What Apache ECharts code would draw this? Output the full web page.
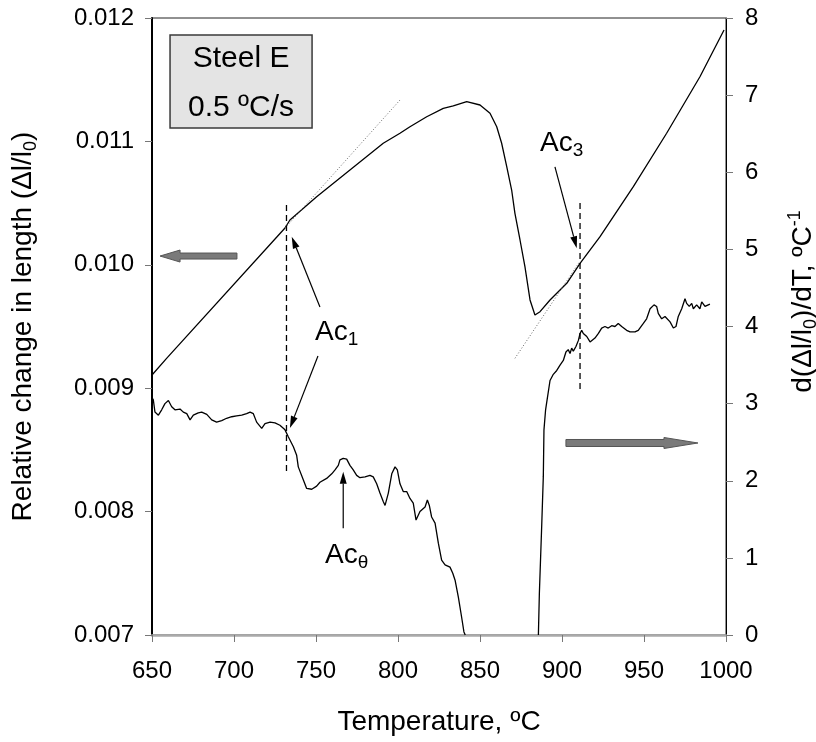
<!DOCTYPE html>
<html>
<head>
<meta charset="utf-8">
<script src="https://cdn.jsdelivr.net/npm/echarts@6/dist/echarts.min.js"></script>
<style>
  html, body { margin: 0; padding: 0; background: #fff; }
  #chart { width: 816px; height: 742px; }
</style>
</head>
<body>
<div id="chart"></div>
<script>
const FONT = '"Liberation Sans", Arial, sans-serif';

// relative change in length vs temperature (left axis)
const dilatation = [
  [650, 0.009107], [658.9, 0.009242], [731.1, 0.010298], [734.1, 0.010363],
  [750.4, 0.010552], [770.7, 0.010768], [791, 0.010985], [801.2, 0.011066],
  [807.3, 0.011119], [817.5, 0.0112], [827.6, 0.011268], [833.7, 0.011287],
  [841.9, 0.011322], [850, 0.011295], [856.1, 0.011228], [860.2, 0.011119],
  [863.2, 0.010985], [866.3, 0.010795], [869.3, 0.010606], [871.3, 0.010417],
  [874.4, 0.010201], [877.4, 0.009985], [880.5, 0.009715], [883.5, 0.009593],
  [886.6, 0.00962], [892.7, 0.009715], [902.9, 0.00985], [911, 0.010012],
  [923.2, 0.010228], [943.5, 0.010633], [963.8, 0.011066], [984.1, 0.011524],
  [998.8, 0.011903]
];

// derivative (right axis), part before it drops off the bottom
const derivLow = [
  [650, 3.08], [650.8, 3.05], [651.8, 2.89], [653.9, 2.85], [655.9, 2.92], [657.9, 3.0],
  [660, 3.04], [662, 2.96], [664, 2.92], [667.1, 2.93], [669.1, 2.89], [671.2, 2.87],
  [673.2, 2.79], [675.2, 2.85], [678.2, 2.88], [680.3, 2.89], [683.4, 2.86], [686.4, 2.79],
  [689.4, 2.76], [692.5, 2.78], [695.5, 2.81], [698.6, 2.83], [701.6, 2.84], [704.7, 2.85],
  [707.7, 2.87], [709.8, 2.89], [711.8, 2.87], [713.8, 2.76], [716.9, 2.68], [718.9, 2.74],
  [722, 2.76], [725, 2.75], [728, 2.72], [731.1, 2.66], [733.1, 2.57], [736.2, 2.44],
  [738.2, 2.33], [739.2, 2.18], [742.3, 2.01], [744.3, 1.9], [747.4, 1.89], [750.4, 1.93],
  [752.4, 1.98], [756.5, 2.03], [759.6, 2.09], [761.6, 2.14], [763.6, 2.2], [764.6, 2.27],
  [766.6, 2.29], [768.7, 2.28], [770.7, 2.2], [772.7, 2.14], [774.8, 2.07], [776.8, 2.04],
  [779.9, 2.05], [782.9, 2.07], [784.9, 2.05], [787, 1.96], [789, 1.84], [791, 1.73],
  [792.1, 1.68], [794.1, 1.84], [796.2, 2.09], [798.2, 2.18], [799.6, 2.14], [801.2, 1.96],
  [803.2, 1.86], [805.3, 1.86], [807.3, 1.77], [809.3, 1.71], [811, 1.49], [813.4, 1.6],
  [816.5, 1.66], [817.9, 1.75], [819.1, 1.68], [820.5, 1.53], [822.6, 1.45], [824.6, 1.19],
  [826.6, 0.97], [828.7, 0.91], [831.7, 0.88], [833.4, 0.8], [834.8, 0.71], [836.8, 0.49],
  [838.8, 0.23], [840.2, 0.04], [841, 0]
];

// derivative (right axis), part after it comes back up
const derivHigh = [
  [885.6, 0], [886.2, 0.54], [887.6, 1.4], [888.6, 2.05], [889, 2.66], [890, 2.92],
  [890.7, 3.02], [892.7, 3.3], [894.7, 3.38], [896.8, 3.43], [898.8, 3.5], [900.8, 3.56],
  [902.4, 3.67], [903.8, 3.7], [904.9, 3.65], [905.9, 3.72], [906.9, 3.68], [908.5, 3.74],
  [910, 3.82], [911, 3.91], [912, 3.95], [913, 3.91], [915.1, 3.87], [917.1, 3.8],
  [918.1, 3.82], [920.1, 3.85], [922.2, 3.91], [924.2, 3.98], [926.2, 4.0], [928.2, 3.98],
  [930.3, 4.01], [932.3, 4.0], [934.3, 4.04], [936.4, 4.0], [939.4, 3.95], [941.5, 3.93],
  [944.5, 3.93], [946.5, 3.95], [949.6, 4.04], [951.6, 4.1], [953.7, 4.23], [956.1, 4.28],
  [957.7, 4.26], [958.7, 4.17], [960.8, 4.1], [962.8, 4.13], [965.9, 4.06], [967.9, 3.98],
  [969.5, 4.0], [970.9, 4.13], [973, 4.23], [975, 4.36], [976, 4.3], [977.6, 4.26],
  [979.1, 4.3], [980.1, 4.23], [982.1, 4.28], [984.1, 4.23], [985.2, 4.32], [987.2, 4.26],
  [989.2, 4.28], [990.2, 4.29]
];

// Ac1 / Ac3 dashed markers and tangent lines (left axis units)
const ac1Marker = [[732, 0.010485], [732, 0.008297]];
const ac3Marker = [[911, 0.0105], [911, 0.008985]];
const ac1Tangent = [[731.1, 0.010298], [801.2, 0.011335]];
const ac3Tangent = [[871.3, 0.009242], [911, 0.01003]];

const tempRange = [650, 1000, 50];
const lengthRange = [0.007, 0.012, 0.001];
const derivRange = [0, 8, 1];

const chart = echarts.init(document.getElementById('chart'));

const tickLabel = { color: '#000', fontSize: 24, fontFamily: FONT };
const nameStyle = {
  color: '#000', fontSize: 28, fontFamily: FONT, lineHeight: 34,
  rich: {
    sub: { fontSize: 18, fontFamily: FONT, color: '#000', verticalAlign: 'bottom', lineHeight: 16 },
    sup: { fontSize: 18, fontFamily: FONT, color: '#000', verticalAlign: 'top', lineHeight: 26 }
  }
};

function lineSeries(data, yAxisIndex, style) {
  return {
    type: 'line', data: data, yAxisIndex: yAxisIndex,
    showSymbol: false, symbol: 'none', silent: true,
    lineStyle: Object.assign({ color: '#000', width: 1.3 }, style)
  };
}

chart.setOption({
  animation: false,
  grid: {
    left: 152, right: 90, top: 18, bottom: 107,
    show: true, borderColor: '#222', borderWidth: 1,
    outerBoundsMode: 'none'
  },
  xAxis: {
    type: 'value', min: tempRange[0], max: tempRange[1], interval: tempRange[2],
    name: 'Temperature, ºC', nameLocation: 'middle', nameGap: 70,
    nameTextStyle: nameStyle,
    axisLine: { lineStyle: { color: '#aaa', width: 2.5 } },
    axisTick: { length: 7, lineStyle: { color: '#777', width: 1 } },
    axisLabel: Object.assign({ margin: 24, formatter: v => String(Math.round(v)) }, tickLabel),
    splitLine: { show: false }
  },
  yAxis: [
    {
      type: 'value', min: lengthRange[0], max: lengthRange[1], interval: lengthRange[2],
      name: 'Relative change in length (Δl/l{sub|0})', nameLocation: 'middle',
      nameRotate: 90, nameGap: 112, nameTextStyle: nameStyle,
      axisLine: { show: true, lineStyle: { color: '#000', width: 2 } },
      axisTick: { length: 7, lineStyle: { color: '#777', width: 1 } },
      axisLabel: Object.assign({ margin: 18, formatter: v => v.toFixed(3) }, tickLabel),
      splitLine: { show: false }
    },
    {
      type: 'value', min: derivRange[0], max: derivRange[1], interval: derivRange[2],
      position: 'right',
      name: 'd(Δl/l{sub|0})/dT, ºC{sup|-1}', nameLocation: 'middle',
      nameRotate: 90, nameGap: 60,
      nameTextStyle: Object.assign({}, nameStyle, { padding: [0, 0, 0, 50] }),
      axisLine: { show: true, lineStyle: { color: '#000', width: 1 } },
      axisTick: { length: 7, lineStyle: { color: '#777', width: 1 } },
      axisLabel: Object.assign({ margin: 19 }, tickLabel),
      splitLine: { show: false }
    }
  ],
  series: [
    lineSeries(dilatation, 0, {}),
    lineSeries(derivLow, 1, {}),
    lineSeries(derivHigh, 1, {}),
    lineSeries(ac1Marker, 0, { type: [6, 4] }),
    lineSeries(ac3Marker, 0, { type: [6, 4] }),
    lineSeries(ac1Tangent, 0, { color: '#666', width: 1, type: [1, 2] }),
    lineSeries(ac3Tangent, 0, { color: '#666', width: 1, type: [1, 2] })
  ]
});

// annotations, placed in data units of the left axis
const toPx = p => chart.convertToPixel({ xAxisIndex: 0, yAxisIndex: 0 }, p);

function thinArrow(from, to) {
  const a = toPx(from), b = toPx(to);
  const ang = Math.atan2(b[1] - a[1], b[0] - a[0]);
  const L = 12, W = 3.5;
  const bx = b[0] - L * Math.cos(ang), by = b[1] - L * Math.sin(ang);
  const nx = -Math.sin(ang) * W, ny = Math.cos(ang) * W;
  return [
    { type: 'line', silent: true, shape: { x1: a[0], y1: a[1], x2: bx, y2: by },
      style: { stroke: '#000', lineWidth: 1.2 } },
    { type: 'polygon', silent: true,
      shape: { points: [[b[0], b[1]], [bx + nx, by + ny], [bx - nx, by - ny]] },
      style: { fill: '#000' } }
  ];
}

function blockArrow(from, to, bodyW, headW, headL) {
  const a = toPx(from), b = toPx(to);
  const dir = Math.sign(b[0] - a[0]);
  const y = a[1], hx = b[0] - dir * headL;
  return {
    type: 'polygon', silent: true,
    shape: { points: [
      [a[0], y - bodyW / 2], [hx, y - bodyW / 2], [hx, y - headW / 2], [b[0], y],
      [hx, y + headW / 2], [hx, y + bodyW / 2], [a[0], y + bodyW / 2]
    ] },
    style: { fill: '#7a7a7a', stroke: '#555', lineWidth: 1 }
  };
}

function acLabel(pos, sub) {
  const p = toPx(pos);
  return {
    type: 'text', silent: true, x: p[0], y: p[1],
    style: {
      text: 'Ac{s|' + sub + '}', fill: '#000', fontSize: 28, fontFamily: FONT,
      lineHeight: 34, align: 'left', verticalAlign: 'middle',
      rich: { s: { fontSize: 19, fontFamily: FONT, fill: '#000', verticalAlign: 'bottom', lineHeight: 16 } }
    }
  };
}

const boxTL = toPx([661, 0.011862]);
const boxBR = toPx([747.6, 0.011109]);
const boxW = boxBR[0] - boxTL[0], boxH = boxBR[1] - boxTL[1];
const boxText = (txt, fy) => ({
  type: 'text', silent: true, x: boxTL[0] + boxW / 2, y: boxTL[1] + boxH * fy,
  style: { text: txt, fill: '#000', fontSize: 30, fontFamily: FONT, align: 'center', verticalAlign: 'middle' }
});

chart.setOption({
  graphic: [
    { type: 'rect', silent: true,
      shape: { x: boxTL[0], y: boxTL[1], width: boxW, height: boxH },
      style: { fill: '#e4e4e4', stroke: '#3a3a3a', lineWidth: 1.5 } },
    boxText('Steel E', 0.26),
    boxText('0.5 ºC/s', 0.78),
    acLabel([749.4, 0.009455], '1'),
    acLabel([886.6, 0.010987], '3'),
    acLabel([755.5, 0.007648], 'θ'),
    ...thinArrow([752.4, 0.009658], [735.2, 0.010228]),
    ...thinArrow([751.2, 0.009261], [734.1, 0.008677]),
    ...thinArrow([895.7, 0.010793], [909, 0.010134]),
    ...thinArrow([766.6, 0.007865], [766.6, 0.008323]),
    blockArrow([701.8, 0.010071], [654.9, 0.010071], 6, 12, 20),
    blockArrow([902.4, 0.008556], [982.9, 0.008556], 7, 11, 34)
  ]
});
</script>
</body>
</html>
